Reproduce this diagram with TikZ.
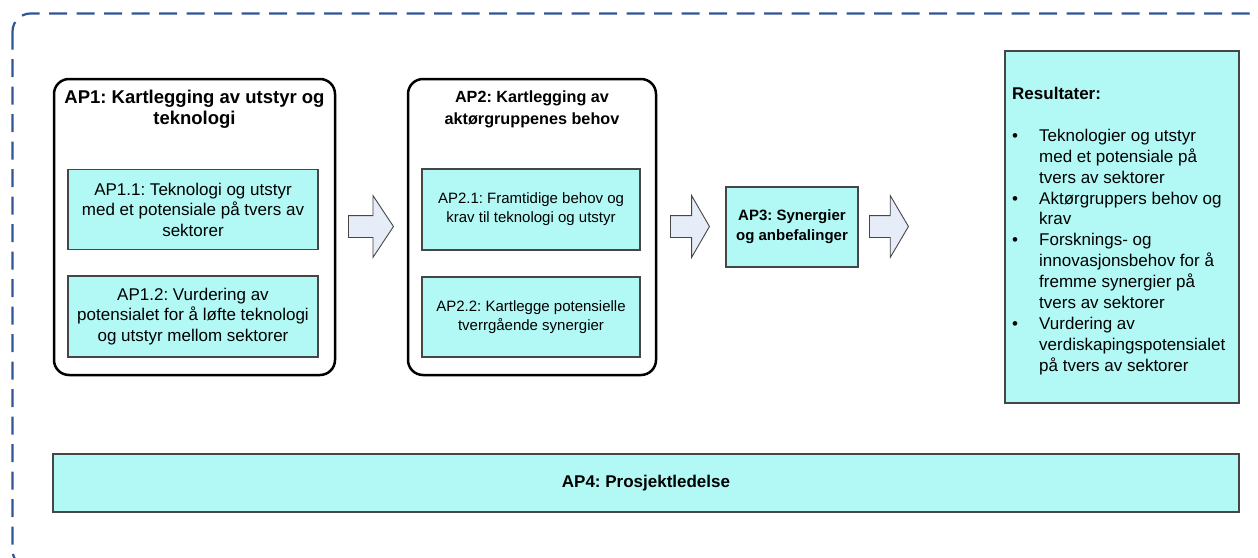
\documentclass[tikz,border=0pt]{standalone}
\usepackage{fontspec}
\setmainfont{Liberation Sans}
\usetikzlibrary{shapes.arrows}
\definecolor{boxcyan}{RGB}{178,249,246}
\definecolor{arrowfill}{RGB}{230,236,248}
\definecolor{frameblue}{RGB}{47,85,151}
\definecolor{edgegray}{RGB}{70,70,70}
\frenchspacing
\begin{document}
\begin{tikzpicture}[x=1pt,y=-1pt,
  wpbox/.style={draw=black, line width=2.5pt, rounded corners=15pt, inner sep=0pt},
  subbox/.style={draw=edgegray, line width=1.1pt, fill=boxcyan, align=center, inner sep=0pt},
  flowarrow/.style={single arrow, draw=edgegray, line width=0.9pt, fill=arrowfill,
    inner xsep=0pt, inner ysep=10.5pt, single arrow head extend=20pt, anchor=tail},
  bodyA/.style={font=\fontsize{17}{20.5}\selectfont},
  bodyB/.style={font=\fontsize{15}{19}\selectfont},
]
\useasboundingbox (0,0) rectangle (1258,557);
\clip (0,0) rectangle (1258,557);
% outer dashed frame
\draw[frameblue, line width=2.2pt, dash pattern=on 18pt off 9.5pt, rounded corners=18pt]
  (12.5,13.5) rectangle (1266,568);

% AP1
\node[wpbox, minimum width=281pt, minimum height=296pt] (ap1) at (194.5,227) {};
\node[align=center, inner sep=0pt, font=\bfseries\fontsize{18.5}{21}\selectfont] (ap1title) at (194.5,109.5) {AP1: Kartlegging av utstyr og\\teknologi};
\node[subbox, bodyA, minimum width=250pt, minimum height=80pt] (ap11) at (193,209.5) {AP1.1: Teknologi og utstyr\\med et potensiale på tvers av\\sektorer};
\node[subbox, bodyA, minimum width=250pt, minimum height=81pt] (ap12) at (193,316.5) {AP1.2: Vurdering av\\potensialet for å løfte teknologi\\og utstyr mellom sektorer};

% AP2
\node[wpbox, minimum width=248pt, minimum height=296pt] (ap2) at (532,227) {};
\node[align=center, inner sep=0pt, font=\bfseries\fontsize{16.2}{22}\selectfont] (ap2title) at (532,109) {AP2: Kartlegging av\\aktørgruppenes behov};
\node[subbox, bodyB, minimum width=218pt, minimum height=81pt] (ap21) at (531,209.5) {AP2.1: Framtidige behov og\\krav til teknologi og utstyr};
\node[subbox, bodyB, minimum width=218pt, minimum height=80pt] (ap22) at (531,317) {AP2.2: Kartlegge potensielle\\tverrgående synergier};

% AP3
\node[subbox, font=\bfseries\fontsize{15}{20}\selectfont, minimum width=132pt, minimum height=80pt] (ap3) at (792,227) {AP3: Synergier\\og anbefalinger};

% Results
\node[subbox, minimum width=234pt, minimum height=352pt] (res) at (1122,227) {};
\node[anchor=west, inner sep=0pt, font=\bfseries\fontsize{17}{21}\selectfont] (reshead) at (1012,93) {Resultater:};
\node[anchor=north west, inner sep=0pt, font=\fontsize{17}{20.9}\selectfont] (reslist) at (1012,126.5) {%
\begin{tabular}{@{}p{27pt}@{}l@{}}
\textbullet & Teknologier og utstyr\\
 & med et potensiale på\\
 & tvers av sektorer\\
\textbullet & Aktørgruppers behov og\\
 & krav\\
\textbullet & Forsknings- og\\
 & innovasjonsbehov for å\\
 & fremme synergier på\\
 & tvers av sektorer\\
\textbullet & Vurdering av\\
 & verdiskapingspotensialet\\
 & på tvers av sektorer
\end{tabular}};

% AP4
\node[subbox, font=\bfseries\fontsize{17}{20}\selectfont, minimum width=1186pt, minimum height=58pt] (ap4) at (646,483) {AP4: Prosjektledelse};

% block arrows between the stages
\node[flowarrow, minimum height=45pt, single arrow tip angle=113] (arr1) at (348,226.5) {};
\node[flowarrow, minimum height=39pt, single arrow tip angle=120] (arr2) at (670,226.5) {};
\node[flowarrow, minimum height=39pt, single arrow tip angle=119] (arr3) at (869,226.5) {};
\end{tikzpicture}
\end{document}
